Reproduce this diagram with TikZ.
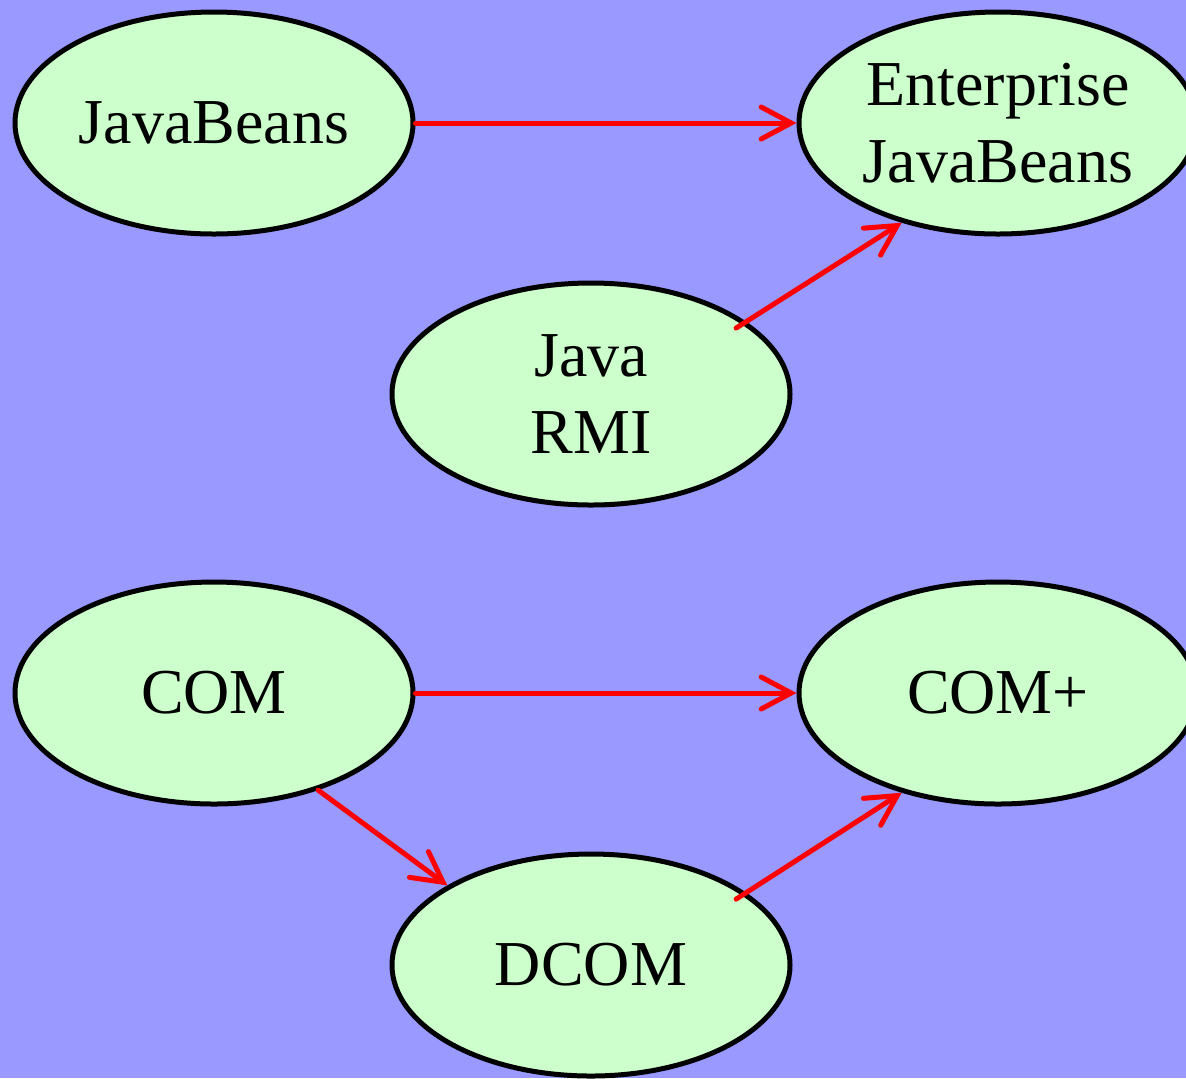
\documentclass[tikz,border=0pt]{standalone}
\usepackage{fontspec}
\setmainfont{Liberation Serif}
\usetikzlibrary{shapes.geometric,arrows.meta}
\definecolor{bgblue}{HTML}{9999FF}
\definecolor{mint}{HTML}{CCFFCC}
\begin{document}
\begin{tikzpicture}[line width=2.5pt]

	\tikzset{
		tech/.style={shape=ellipse,draw,fill=mint,inner sep=0pt,
			minimum width=199pt,minimum height=111pt,align=center,
			font=\fontsize{32}{38.4}\selectfont},
		link/.style={draw=red,line width=2.5pt,line cap=round,
			-{Straight Barb[length=15pt,width=16pt,line cap=round]}}
	}

	\fill[bgblue] (0pt,0pt) rectangle (593pt,-539pt);
	\useasboundingbox (0pt,0pt) rectangle (593pt,-539pt);
	\clip (0pt,0pt) rectangle (593pt,-539pt);

	\node[tech] (jb) at (107pt,-61.5pt) {JavaBeans};
	\node[tech] (ejb) at (499pt,-61.5pt) {Enterprise\\JavaBeans};
	\node[tech] (rmi) at (295.5pt,-197pt) {Java\\RMI};
	\node[tech] (com) at (107pt,-346.5pt) {COM};
	\node[tech] (complus) at (499pt,-346.5pt) {COM+};
	\node[tech] (dcom) at (295.5pt,-482.5pt) {DCOM};

	\path (jb.east) edge [link] (ejb.west)
				(rmi.25) edge [link,shorten <=-6pt] (ejb.226)
				(com.east) edge [link] (complus.west)
				(com.317) edge [link] (dcom.151)
				(dcom.25) edge [link,shorten <=-6pt] (complus.226);

\end{tikzpicture}
\end{document}
